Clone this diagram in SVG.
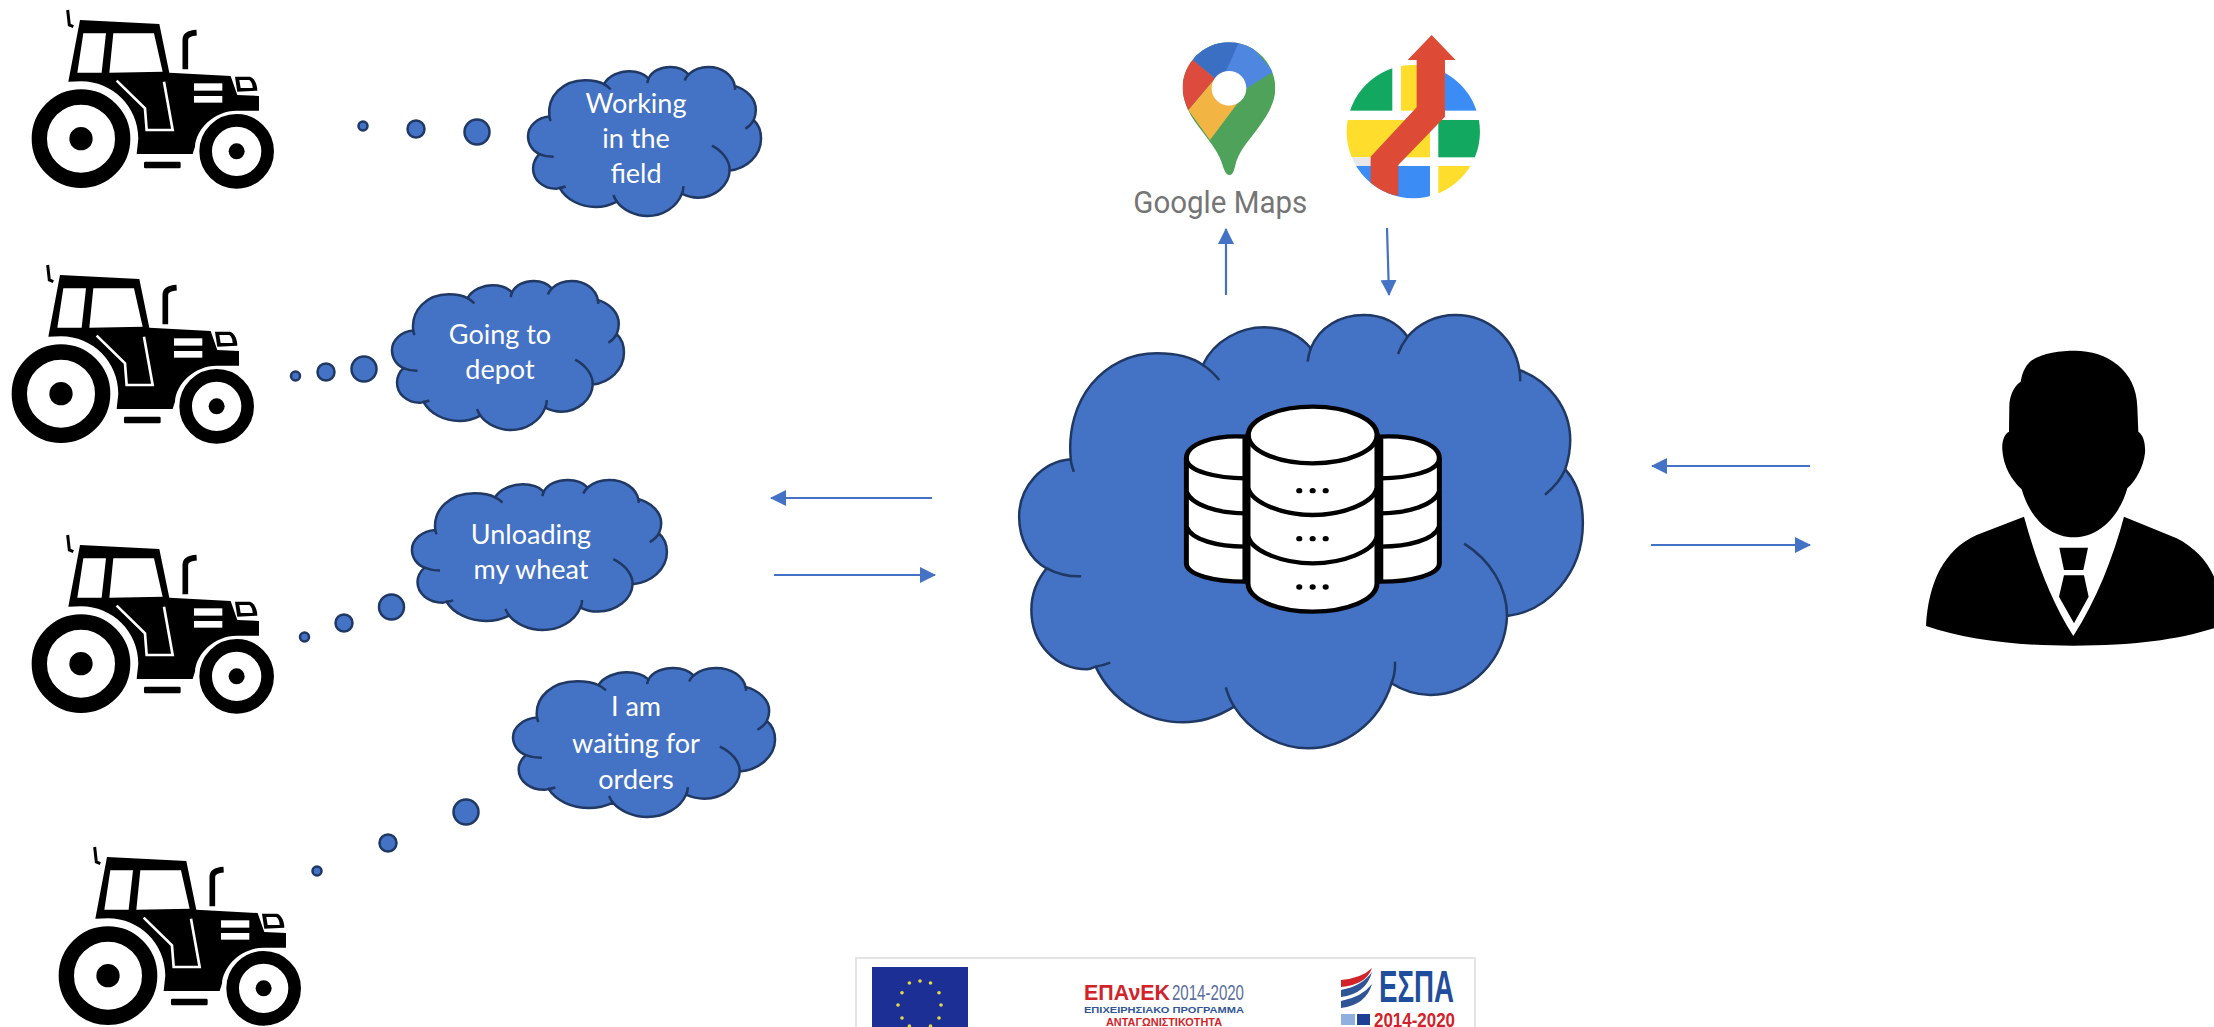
<svg xmlns="http://www.w3.org/2000/svg" width="2214" height="1027" viewBox="0 0 2214 1027">
<style>
.cl{fill:#4472c4;stroke:#1f3864;stroke-width:2.5;vector-effect:non-scaling-stroke}
.cd{fill:none;stroke:#1f3864;stroke-width:2.5;vector-effect:non-scaling-stroke}
.dot{fill:#4472c4;stroke:#1f3864;stroke-width:2.5}
.lb{font-family:Lato,"Open Sans",sans-serif;font-size:27px;fill:#fff;text-anchor:middle}
.ar{fill:none;stroke:#4472c4;stroke-width:2.2;marker-end:url(#ah)}
.db{fill:#fff;stroke:#000;stroke-width:13}
.dl{fill:none;stroke:#000;stroke-width:13}
</style>
<defs>
<marker id="ah" markerUnits="userSpaceOnUse" markerWidth="16" markerHeight="16" refX="15" refY="8" orient="auto"><path d="M0,0L16,8L0,16Z" fill="#4472c4"/></marker>
<g id="cloud">
<path class="cl" d="M185,478C170,300 270,160 410,160C460,160 500,170 530,195C560,120 630,82 690,82C740,82 785,105 812,145C835,80 890,45 950,45C1000,45 1040,70 1065,110C1095,70 1140,45 1190,45C1280,45 1345,120 1357,210C1430,240 1490,320 1490,420C1490,450 1485,480 1477,508C1510,550 1523,610 1523,670C1523,820 1430,935 1325,948C1320,1080 1230,1185 1125,1185C1085,1185 1050,1170 1023,1150C990,1270 900,1345 805,1345C725,1345 650,1290 612,1220C570,1250 525,1267 478,1267C380,1267 290,1200 250,1100C240,1105 235,1108 228,1108C145,1108 82,1030 82,930C82,885 97,840 122,805C80,780 50,720 50,650C50,560 110,485 185,478Z"/>
<path class="cd" d="M185,478C185,490 190,505 193,516M530,195C548,208 560,222 573,240M812,145C808,158 805,172 804,185M1065,110C1055,125 1046,142 1040,162M1357,210C1359,222 1360,232 1359,244M1477,508C1465,540 1445,565 1424,584M1325,948C1325,860 1280,780 1213,731M1023,1150C1030,1130 1033,1108 1032,1085M612,1220C602,1202 595,1182 590,1162M250,1100C262,1098 275,1094 288,1088M122,805C150,822 180,830 212,829"/>
</g>
<g id="tractor" transform="scale(.3333)">
<path d="M205,245L240,60L478,72L508,218L692,228L712,285L777,288L777,332L710,332C643,332 588,387 585,440L578,462L410,462L415,416C415,321 338,244 243,244Z" fill="#000"/>
<path d="M250,100L318,100L305,218L232,218ZM340,100L462,100L488,215L328,218Z" fill="#fff"/>
<path d="M350,242L435,325L440,390L518,390L492,245" fill="none" stroke="#fff" stroke-width="8"/>
<rect x="582" y="250" width="85" height="22" fill="#fff"/><rect x="582" y="288" width="85" height="20" fill="#fff"/>
<path d="M705,230L750,230C765,235 772,255 772,272L712,275Z" fill="#000"/><path d="M718,240L748,240C755,245 758,255 758,264L722,264Z" fill="#fff"/>
<circle cx="243" cy="416" r="125" fill="none" stroke="#000" stroke-width="46"/><circle cx="243" cy="416" r="35"/>
<circle cx="710" cy="454" r="93" fill="none" stroke="#000" stroke-width="38"/><circle cx="710" cy="454" r="24"/>
<path d="M556,208L556,120Q556,100 590,98" fill="none" stroke="#000" stroke-width="17"/>
<path d="M203,30L208,75L220,80" fill="none" stroke="#000" stroke-width="9"/>
<rect x="432" y="485" width="110" height="20" rx="4"/>
</g>
<clipPath id="pin"><path d="M357,465C345,465 340,440 330,415C310,370 270,330 245,290C225,255 218,225 218,205C218,130 280,67 357,67C434,67 496,130 496,205C496,250 470,290 440,330C410,370 385,395 375,440C370,460 365,465 357,465Z"/></clipPath>
<clipPath id="disc"><circle cx="910" cy="335" r="200"/></clipPath>
</defs>

<g id="tractor-1"><use href="#tractor"/></g>
<g id="tractor-2"><use href="#tractor" transform="translate(-20,255)"/></g>
<g id="tractor-3"><use href="#tractor" transform="translate(0,525)"/></g>
<g id="tractor-4"><use href="#tractor" transform="translate(27,837)"/></g>

<g id="thought-1">
<circle class="dot" cx="363" cy="126" r="4.5"/><circle class="dot" cx="416" cy="129" r="8.5"/><circle class="dot" cx="477" cy="132" r="12.5"/>
<use href="#cloud" transform="translate(520.1,61.84) scale(.1582,.1146)"/>
<text class="lb" x="636" y="113">Working</text><text class="lb" x="636" y="148">in the</text><text class="lb" x="636" y="183">field</text>
</g>
<g id="thought-2">
<circle class="dot" cx="295.5" cy="376" r="4.5"/><circle class="dot" cx="326" cy="372" r="8.5"/><circle class="dot" cx="364" cy="369" r="12.5"/>
<use href="#cloud" transform="translate(384.1,275.84) scale(.1575,.1146)"/>
<text class="lb" x="500" y="344">Going to</text><text class="lb" x="500" y="379">depot</text>
</g>
<g id="thought-3">
<circle class="dot" cx="304.5" cy="637" r="4.5"/><circle class="dot" cx="344" cy="623" r="8.5"/><circle class="dot" cx="391.5" cy="607" r="12.5"/>
<use href="#cloud" transform="translate(403.3,474.8) scale(.1731,.1154)"/>
<text class="lb" x="531" y="544">Unloading</text><text class="lb" x="531" y="579">my wheat</text>
</g>
<g id="thought-4">
<circle class="dot" cx="317" cy="871" r="4.5"/><circle class="dot" cx="388" cy="843" r="8.5"/><circle class="dot" cx="466" cy="812" r="12.5"/>
<use href="#cloud" transform="translate(504.1,662.84) scale(.1779,.1146)"/>
<text class="lb" x="636" y="716">I am</text><text class="lb" x="636" y="753">waiting for</text><text class="lb" x="636" y="789">orders</text>
</g>

<g id="connectors">
<path class="ar" d="M932,498H771"/>
<path class="ar" d="M774,575H935"/>
<path class="ar" d="M1810,466H1652"/>
<path class="ar" d="M1651,545H1810"/>
<path class="ar" d="M1226,295V229"/>
<path class="ar" d="M1387,228L1389,295"/>
</g>

<g id="cloud-db">
<use href="#cloud" transform="translate(1000,300) scale(.3827,.3333)"/>
<g transform="translate(1000,300) scale(.3827,.3333)">
<path class="db" d="M640,410C560,405 487,430 487,475L487,790C487,825 560,845 640,845Z"/>
<path class="dl" d="M487,475C487,515 570,535 640,535M487,575C500,615 570,640 640,640M487,680C500,720 570,740 640,740"/>
<path class="db" d="M995,410C1075,405 1148,430 1148,475L1148,790C1148,825 1075,845 995,845Z"/>
<path class="dl" d="M1148,475C1148,515 1065,535 995,535M1148,575C1135,615 1065,640 995,640M1148,680C1135,720 1065,740 995,740"/>
<path class="db" d="M648,405L648,850C648,900 730,935 817,935C905,935 985,900 985,850L985,405Z"/>
<ellipse class="db" cx="817" cy="405" rx="168" ry="85"/>
<path class="dl" d="M648,565C660,610 740,645 817,645C895,645 975,610 985,565M648,710C660,755 740,790 817,790C895,790 975,755 985,710"/>
<g><circle cx="782" cy="572" r="8"/><circle cx="817" cy="572" r="8"/><circle cx="851" cy="572" r="8"/><circle cx="782" cy="716" r="8"/><circle cx="817" cy="716" r="8"/><circle cx="851" cy="716" r="8"/><circle cx="782" cy="861" r="8"/><circle cx="817" cy="861" r="8"/><circle cx="851" cy="861" r="8"/></g>
</g>
</g>

<g id="google-maps" transform="translate(1110,20) scale(.3333)">
<g clip-path="url(#pin)">
<rect x="200" y="50" width="310" height="430" fill="#4fa25a"/>
<path d="M235,270L300,360L390,240L330,190L315,175Z" fill="#f2b544"/>
<path d="M200,290L235,270L315,175L250,120L200,110Z" fill="#dc4b3e"/>
<path d="M250,120L315,175L410,205L490,155L400,50L250,50Z" fill="#4f86e0"/>
<path d="M250,120L315,175L345,160L390,60L280,50Z" fill="#3a6fc4"/>
</g>
<circle cx="357" cy="205" r="52" fill="#fff"/>
<text x="70" y="580" font-family="Roboto,sans-serif" font-size="92" fill="#757575" textLength="522" lengthAdjust="spacingAndGlyphs">Google Maps</text>
</g>

<g id="route-app" transform="translate(1110,20) scale(.3333)">
<g clip-path="url(#disc)">
<rect x="700" y="130" width="147" height="142" fill="#12a860"/>
<rect x="873" y="130" width="90" height="142" fill="#ffdd2d"/>
<rect x="1005" y="130" width="115" height="142" fill="#3b8cf5"/>
<rect x="700" y="300" width="260" height="112" fill="#ffdd2d"/>
<rect x="985" y="300" width="135" height="112" fill="#12a860"/>
<rect x="700" y="412" width="90" height="26" fill="#e8e8e8"/>
<rect x="700" y="438" width="260" height="102" fill="#3b8cf5"/>
<rect x="985" y="438" width="135" height="102" fill="#ffdd2d"/>
</g>
<path d="M782,410L920,262L920,120L893,120L965,45L1037,120L1005,120L1005,290L865,435L865,528Q820,520 782,488Z" fill="#dd4b36"/>
</g>

<g id="person" transform="translate(1900,330) scale(.3333)">
<path d="M390,95C420,70 480,62 525,62C620,62 710,120 712,230L715,305C730,315 737,340 735,370C730,410 710,450 682,475C665,540 610,622 520,622C440,622 385,550 365,478C335,450 310,410 307,360C305,330 315,310 327,305L328,230C328,200 340,170 362,155C368,125 375,110 390,95Z"/>
<path d="M372,560L230,615C130,660 85,760 78,888C200,930 350,947 520,947C700,947 830,930 942,895L942,740C920,690 880,650 830,625L672,560C640,680 590,810 520,918C450,810 405,680 372,560Z"/>
<path d="M478,653L564,653L550,720L492,720ZM492,736L552,736L566,800L522,880L477,800Z"/>
</g>

<g id="logos">
<rect x="856" y="958" width="619" height="75" fill="#fff" stroke="#e4e4e4" stroke-width="2"/>
<rect x="872" y="967" width="96" height="62" fill="#1c2f94"/>
<g fill="#e8d84a"><circle cx="920" cy="981" r="1.8"/><circle cx="909.4" cy="983" r="1.8"/><circle cx="930.5" cy="983" r="1.8"/><circle cx="902" cy="992.7" r="1.8"/><circle cx="939" cy="992.7" r="1.8"/><circle cx="898" cy="1005" r="1.8"/><circle cx="941" cy="1005" r="1.8"/><circle cx="902" cy="1018" r="1.8"/><circle cx="939" cy="1018" r="1.8"/><circle cx="909.4" cy="1026" r="1.8"/><circle cx="930.5" cy="1026" r="1.8"/></g>
<text x="1084" y="1000" font-family="Liberation Sans,sans-serif" font-size="22" font-weight="bold" fill="#d2232a" textLength="86" lengthAdjust="spacingAndGlyphs">ΕΠΑνΕΚ</text>
<text x="1172" y="1000" font-family="Liberation Sans,sans-serif" font-size="22" fill="#5a6f9e" textLength="72" lengthAdjust="spacingAndGlyphs">2014-2020</text>
<text x="1084" y="1013" font-family="Liberation Sans,sans-serif" font-size="9" font-weight="bold" fill="#2f5597" textLength="160" lengthAdjust="spacingAndGlyphs">ΕΠΙΧΕΙΡΗΣΙΑΚΟ ΠΡΟΓΡΑΜΜΑ</text>
<text x="1106" y="1026" font-family="Liberation Sans,sans-serif" font-size="10" font-weight="bold" fill="#d2232a" textLength="116" lengthAdjust="spacingAndGlyphs">ΑΝΤΑΓΩΝΙΣΤΙΚΟΤΗΤΑ</text>
<path d="M1341,990Q1362,986 1372,972Q1366,994 1341,997ZM1341,1001Q1362,997 1372,984Q1366,1005 1341,1008Z" fill="#2f5597"/><path d="M1341,980Q1362,978 1372,968Q1366,985 1341,987Z" fill="#d2232a"/>
<text x="1379" y="1002" font-family="Liberation Sans,sans-serif" font-size="44" font-weight="bold" fill="#1f4e9c" textLength="75" lengthAdjust="spacingAndGlyphs">ΕΣΠΑ</text>
<rect x="1341" y="1014" width="14" height="11" fill="#8fb0dc"/><rect x="1357" y="1014" width="13" height="11" fill="#1f3f94"/>
<text x="1374" y="1027" font-family="Liberation Sans,sans-serif" font-size="21" font-weight="bold" fill="#d2232a" textLength="81" lengthAdjust="spacingAndGlyphs">2014-2020</text>
</g>
</svg>
